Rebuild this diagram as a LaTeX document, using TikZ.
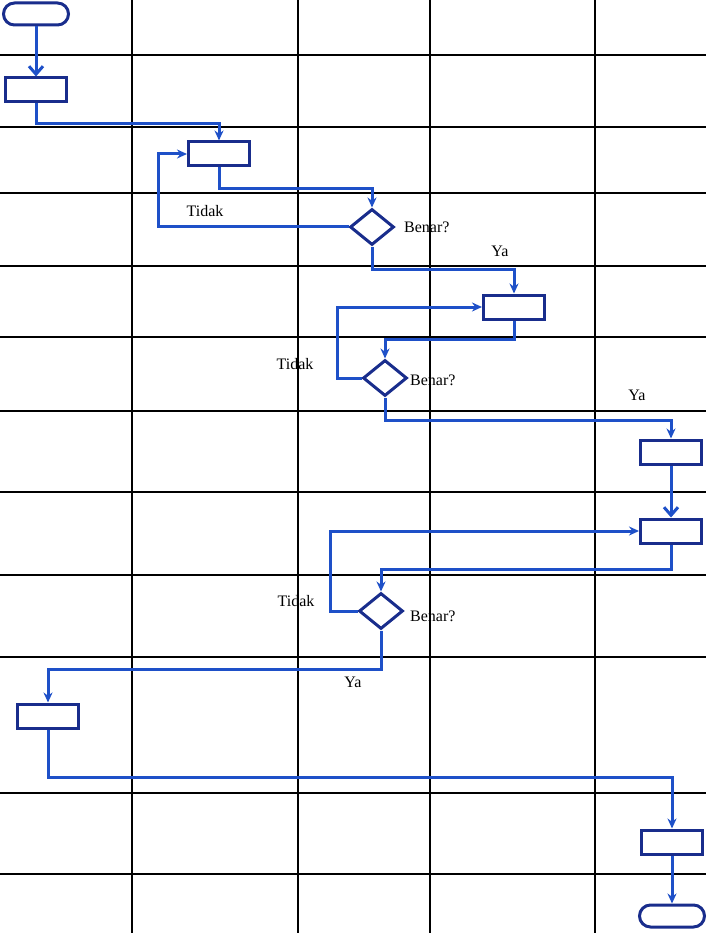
\documentclass[tikz,border=0pt]{standalone}
\usepackage{fontspec}
\setmainfont{Liberation Serif}
\usetikzlibrary{arrows.meta,shapes.geometric}
\definecolor{flowblue}{RGB}{30,80,200}
\definecolor{shapenavy}{RGB}{25,45,140}

\begin{document}
\begin{tikzpicture}[x=1pt, y=-1pt,
        >={Stealth[length=10pt,width=9pt]},
        gridline/.style={black, line width=2pt},
        procbox/.style={draw=shapenavy, line width=3pt, minimum width=61pt, minimum height=24pt, inner sep=0pt},
        termbox/.style={draw=shapenavy, line width=3pt, rounded corners=11pt, minimum width=65pt, minimum height=22pt, inner sep=0pt},
        decbox/.style={diamond, draw=shapenavy, line width=3pt, minimum width=44pt, minimum height=36pt, inner sep=0pt},
        flow/.style={->, draw=flowblue, line width=3pt},
        openflow/.style={-{Straight Barb[length=8pt,width=14pt]}, draw=flowblue, line width=3pt},
        lbl/.style={font=\fontsize{16}{18}\selectfont, inner sep=0pt}]
        \useasboundingbox (0,0) rectangle (706,933);

        % Table grid
        \foreach \gx in {132,298,430,595}
            \draw[gridline] (\gx,0) -- (\gx,933);
        \foreach \gy in {55,127,193,266,337,411,492,575,657,793,874}
            \draw[gridline] (0,\gy) -- (706,\gy);

        % Shapes
        \node[termbox] (start) at (36,14) {};
        \node[procbox] (b1) at (36,90) {};
        \node[procbox] (b2) at (219,154) {};
        \node[decbox] (d1) at (372,227) {};
        \node[procbox] (b3) at (514,307) {};
        \node[decbox] (d2) at (385,378) {};
        \node[procbox] (b4) at (671,452) {};
        \node[procbox] (b5) at (671,531) {};
        \node[decbox] (d3) at (381,611) {};
        \node[procbox] (b6) at (48,716) {};
        \node[procbox] (b7) at (672,842) {};
        \node[termbox] (stop) at (672,916) {};

        % Labels
        \foreach \i/\p in {1/{205,211}, 2/{295,364}, 3/{296,601}}
            \node[lbl] (tidak\i) at (\p) {Tidak};
        \foreach \i/\p in {1/{404,227}, 2/{410,380}, 3/{410,616}}
            \node[lbl, anchor=west] (benar\i) at (\p) {Benar?};
        \foreach \i/\p in {1/{500,251}, 2/{637,395}, 3/{353,682}}
            \node[lbl] (ya\i) at (\p) {Ya};

        % Flow lines
        \draw[openflow] (start) -- (b1);
        \draw[flow] (b1.south) -- ++(0,20) -| (b2.north);
        \draw[flow] (b2.south) -- ++(0,21) -| (d1.north);
        \draw[flow] (d1.west) -- ++(-190,0) |- (b2.west);
        \draw[flow] (d1.south) -- ++(0,23) -| (b3.north);
        \draw[flow] (b3.south) -- ++(0,19) -| (d2.north);
        \draw[flow] (d2.west) -- ++(-24,0) |- (b3.west);
        \draw[flow] (d2.south) -- ++(0,23) -| (b4.north);
        \draw[openflow] (b4) -- (b5);
        \draw[flow] (b5.south) -- ++(0,25) -| (d3.north);
        \draw[flow] (d3.west) -- ++(-27,0) |- (b5.west);
        \draw[flow] (d3.south) -- ++(0,39) -| (b6.north);
        \draw[flow] (b6.south) -- ++(0,48) -| (b7.north);
        \draw[flow] (b7) -- (stop);
    \end{tikzpicture}
\end{document}
